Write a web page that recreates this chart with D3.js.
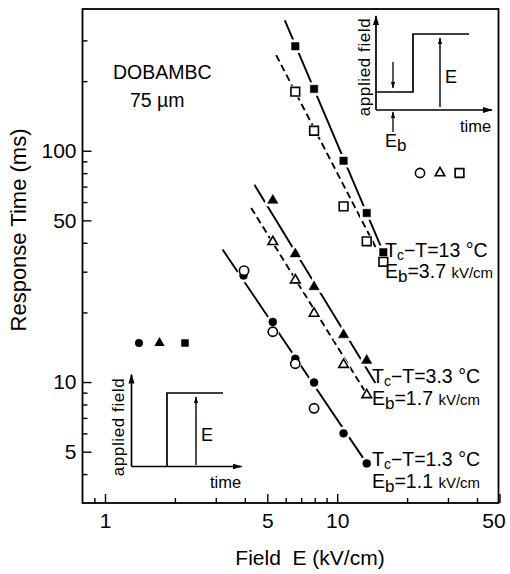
<!DOCTYPE html>
<html><head><meta charset="utf-8">
<script src="https://cdn.jsdelivr.net/npm/d3@7"></script>
<style>
body{margin:0;background:#fff;}
svg text{font-family:"Liberation Sans",Arial,Helvetica,sans-serif;fill:#000;}
</style></head><body><svg id="c" width="510" height="574"></svg>
<script>
// ---------------- data ----------------
const fieldsSq = [6.6, 7.95, 10.65, 13.4, 15.8];
const sqFilled = [283, 185, 90.5, 53.8, 36.4];      // Tc-T = 13 °C, step from 0
const sqOpen   = [180, 122, 57.5, 40.6, 33.1];      // Tc-T = 13 °C, with bias
const fieldsTri = [5.28, 6.6, 7.95, 10.65, 13.4];
const triFilled = [61, 35.8, 25.8, 16.0, 12.4];     // Tc-T = 3.3 °C
const triOpen   = [40.4, 27.6, 19.8, 11.9, 8.8];
const fieldsCircFilled = [3.95, 5.28, 6.6, 7.95, 10.65, 13.4];
const circFilled = [28.9, 18.2, 12.6, 9.95, 6.0, 4.45]; // Tc-T = 1.3 °C
const fieldsCircOpen = [3.97, 5.28, 6.6, 7.95];
const circOpen = [30.3, 16.5, 12.0, 7.7];
// fitted lines: [field, time] end points
const fitSqFilled   = [[5.95, 366], [15.8, 36.4]];
const fitSqOpen     = [[5.46, 259], [15.2, 35.6]];
const fitTriFilled  = [[4.40, 71.3], [14.6, 9.9]];
const fitTriOpen    = [[4.26, 56.6], [13.1, 9.2]];
const fitCirc       = [[3.21, 37.4], [13.4, 4.45]];
// axis ticks
const xMajor = [1, 5, 10, 50];
const xMinor = [0.9, 2, 3, 4, 6, 7, 8, 9, 20, 30, 40];
const yMajor = [5, 10, 50, 100];
const yMinor = [4, 6, 7, 8, 9, 20, 30, 40, 60, 70, 80, 90, 200, 300];
const curveLabels = [
  {t1: "13 °C", e: "3.7"},
  {t1: "3.3 °C", e: "1.7"},
  {t1: "1.3 °C", e: "1.1"}
];

// ---------------- layout ----------------
const svg = d3.select('#c');
const L = 82.5, R = 498.5, T = 9, B = 503;
const x = d3.scaleLog().domain([0.8, 50]).range([L, 499.5]);
const y = d3.scaleLog().domain([3, 410]).range([B, T]);

const defs = svg.append('defs');
defs.append('marker').attr('id','ah').attr('viewBox','0 0 10 10').attr('refX',9).attr('refY',5)
  .attr('markerWidth',10).attr('markerHeight',10).attr('markerUnits','userSpaceOnUse').attr('orient','auto')
  .append('path').attr('d','M0,2 L10,5 L0,8 Z').attr('fill','#000');
defs.append('marker').attr('id','ahs').attr('viewBox','0 0 10 10').attr('refX',9).attr('refY',5)
  .attr('markerWidth',7).attr('markerHeight',7).attr('markerUnits','userSpaceOnUse').attr('orient','auto')
  .append('path').attr('d','M0,2 L10,5 L0,8 Z').attr('fill','#000');

// axes
const gx = svg.append('g').attr('transform', `translate(0,${B})`);
gx.call(d3.axisBottom(x).tickValues(xMinor).tickSize(-5).tickFormat(''));
gx.call(g => g.select('.domain').remove());
const gx2 = svg.append('g').attr('transform', `translate(0,${B})`);
gx2.call(d3.axisBottom(x).tickValues(xMajor).tickSize(-9).tickPadding(10).tickFormat(d3.format('d')));
gx2.select('.domain').remove();
gx2.selectAll('text').attr('font-size', 21).attr('font-family', '"Liberation Sans",Arial,sans-serif')
  .attr('dx', d => d === 50 ? -6 : 0);

const gy = svg.append('g').attr('transform', `translate(${L},0)`);
gy.call(d3.axisLeft(y).tickValues(yMinor).tickSize(-5).tickFormat(''));
gy.select('.domain').remove();
const gy2 = svg.append('g').attr('transform', `translate(${L},0)`);
gy2.call(d3.axisLeft(y).tickValues(yMajor).tickSize(-9).tickPadding(6).tickFormat(d3.format('d')));
gy2.select('.domain').remove();
gy2.selectAll('text').attr('font-size', 21).attr('font-family', '"Liberation Sans",Arial,sans-serif');
svg.selectAll('.tick line').attr('stroke', '#000').attr('stroke-width', 1.4);

svg.append('rect').attr('x', L).attr('y', T).attr('width', R - L).attr('height', B - T)
  .attr('fill', 'none').attr('stroke', '#000').attr('stroke-width', 1.8);

// axis titles
svg.append('text').attr('transform', `translate(26,${230}) rotate(-90)`).attr('text-anchor', 'middle')
  .attr('font-size', 22).text('Response Time (ms)');
svg.append('text').attr('x', 310).attr('y', 565).attr('text-anchor', 'middle')
  .attr('font-size', 21).attr('xml:space', 'preserve').text('Field  E (kV/cm)');

// sample label
svg.append('text').attr('x', 113).attr('y', 79).attr('font-size', 19.5).text('DOBAMBC');
svg.append('text').attr('x', 130).attr('y', 107).attr('font-size', 19.5).text('75 µm');

// ---------------- lines ----------------
const line = d3.line().x(d => x(d[0])).y(d => y(d[1]));
const gl = svg.append('g').attr('fill', 'none').attr('stroke', '#000');
gl.append('path').attr('d', line(fitSqFilled)).attr('stroke-width', 1.9);
gl.append('path').attr('d', line(fitSqOpen)).attr('stroke-width', 1.9).attr('stroke-dasharray', '7,4');
gl.append('path').attr('d', line(fitTriFilled)).attr('stroke-width', 1.9);
gl.append('path').attr('d', line(fitTriOpen)).attr('stroke-width', 1.9).attr('stroke-dasharray', '7,4');
gl.append('path').attr('d', line(fitCirc)).attr('stroke-width', 1.9);

// ---------------- markers ----------------
const sym = {
  sqF: d3.symbol().type(d3.symbolSquare).size(56),
  sqO: d3.symbol().type(d3.symbolSquare).size(76),
  triF: d3.symbol().type(d3.symbolTriangle).size(46),
  triO: d3.symbol().type(d3.symbolTriangle).size(40),
  cF: d3.symbol().type(d3.symbolCircle).size(50),
  cO: d3.symbol().type(d3.symbolCircle).size(68)
};
const series = [
  {xs: fieldsSq, ys: sqFilled, s: sym.sqF, open: false},
  {xs: fieldsTri, ys: triFilled, s: sym.triF, open: false},
  {xs: fieldsCircFilled, ys: circFilled, s: sym.cF, open: false},
  {xs: fieldsSq, ys: sqOpen, s: sym.sqO, open: true},
  {xs: fieldsTri, ys: triOpen, s: sym.triO, open: true},
  {xs: fieldsCircOpen, ys: circOpen, s: sym.cO, open: true}
];
const halo = svg.append('g');
series.forEach(sr => {
  halo.selectAll(null).data(sr.xs.map((v, i) => [v, sr.ys[i]])).join('path')
    .attr('d', sr.s).attr('transform', d => `translate(${x(d[0])},${y(d[1])})`)
    .attr('fill', '#fff').attr('stroke', '#fff').attr('stroke-width', sr.open ? 3 : 6);
});
const gm = svg.append('g');
series.forEach(sr => {
  gm.selectAll(null).data(sr.xs.map((v, i) => [v, sr.ys[i]])).join('path')
    .attr('d', sr.s).attr('transform', d => `translate(${x(d[0])},${y(d[1])})`)
    .attr('fill', sr.open ? '#fff' : '#000').attr('stroke', '#000').attr('stroke-width', sr.open ? 1.6 : 0.5);
});

// legend symbols
const lg1 = [{s: sym.cF, dx: 139}, {s: sym.triF, dx: 159.5}, {s: sym.sqF, dx: 185}];
svg.append('g').selectAll('path').data(lg1).join('path').attr('d', d => d.s())
  .attr('transform', d => `translate(${d.dx},343)`).attr('fill', '#000');
const lg2 = [{s: sym.cO, dx: 420}, {s: sym.triO, dx: 440}, {s: sym.sqO, dx: 459.5}];
svg.append('g').selectAll('path').data(lg2).join('path').attr('d', d => d.s())
  .attr('transform', d => `translate(${d.dx},173)`).attr('fill', '#fff').attr('stroke', '#000').attr('stroke-width', 1.6);

// curve labels
const lblPos = [{x: 385, y1: 257, y2: 278}, {x: 372, y1: 383, y2: 405}, {x: 372, y1: 466, y2: 488}];
curveLabels.forEach((c, i) => {
  const p = lblPos[i];
  const t = svg.append('text').attr('x', p.x).attr('y', p.y1).attr('font-size', 19.5);
  t.append('tspan').text('T');
  t.append('tspan').attr('font-size', 14).attr('dy', 3).text('c');
  t.append('tspan').attr('dy', -3).text('−T=' + c.t1);
  const e = svg.append('text').attr('x', p.x).attr('y', p.y2).attr('font-size', 19.5);
  e.append('tspan').text('E');
  e.append('tspan').attr('font-size', 17).attr('dy', 4).text('b');
  e.append('tspan').attr('dy', -4).text('=' + c.e + ' ');
  e.append('tspan').attr('font-size', 15).text('kV/cm');
});

// ---------------- insets ----------------
function inset(g, o) {
  g.append('path').attr('d', `M${o.ax},${o.ay} V${o.ay - o.h}`).attr('stroke', '#000').attr('stroke-width', 1.7).attr('marker-end', 'url(#ah)');
  g.append('path').attr('d', `M${o.ax},${o.ay} H${o.ax + o.w}`).attr('stroke', '#000').attr('stroke-width', 1.7).attr('marker-end', 'url(#ah)');
  g.append('path').attr('d', o.wave).attr('fill', 'none').attr('stroke', '#000').attr('stroke-width', 1.7);
  g.append('path').attr('d', `M${o.ex},${o.ey1} V${o.ey2}`).attr('stroke', '#000').attr('stroke-width', 1.4).attr('marker-end', 'url(#ahs)');
  g.append('text').attr('x', o.ex + 5).attr('y', o.ely).attr('font-size', 18).text('E');
  g.append('text').attr('x', o.tx).attr('y', o.ty).attr('font-size', 16.5).text('time');
  g.append('text').attr('transform', `translate(${o.fx},${o.fy}) rotate(-90)`).attr('text-anchor', 'middle')
    .attr('font-size', 17).attr('letter-spacing', 0.6).text('applied field');
}
const gi1 = svg.append('g');
inset(gi1, {ax: 376, ay: 110, h: 94, w: 116, wave: 'M377,92 H413 V34 H469', ex: 440, ey1: 107, ey2: 38, ely: 83,
  tx: 460, ty: 132, fx: 370, fy: 67});
gi1.append('path').attr('d', 'M393,62 V88').attr('stroke', '#000').attr('stroke-width', 1.3).attr('marker-end', 'url(#ahs)');
gi1.append('path').attr('d', 'M393,132 V112').attr('stroke', '#000').attr('stroke-width', 1.3).attr('marker-end', 'url(#ahs)');
const eb = gi1.append('text').attr('x', 385).attr('y', 147).attr('font-size', 18);
eb.append('tspan').text('E');
eb.append('tspan').attr('dy', 4).attr('font-size', 17).text('b');

const gi2 = svg.append('g');
inset(gi2, {ax: 131.5, ay: 466.5, h: 92, w: 110, wave: 'M167,466.5 V393 H223', ex: 196, ey1: 465, ey2: 397, ely: 441,
  tx: 210, ty: 488, fx: 123.5, fy: 427});
</script></body></html>
